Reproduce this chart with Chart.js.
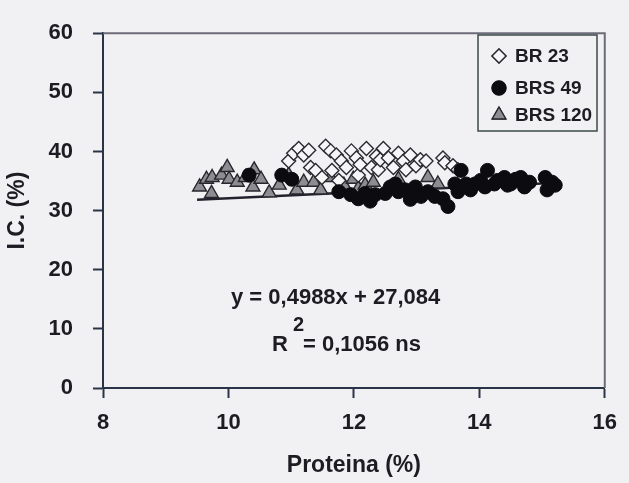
<!DOCTYPE html>
<html>
<head>
<meta charset="utf-8">
<script src="https://cdn.jsdelivr.net/npm/chart.js@4.4.1/dist/chart.umd.min.js"></script>
<style>
  html, body { margin: 0; padding: 0; background: #f1f1f3; }
  #wrap { width: 629px; height: 483px; }
</style>
</head>
<body>
<div id="wrap"><canvas id="icChart" width="629" height="483"></canvas></div>
<script>
// Data (protein % vs harvest index %)
const br23X = [10.96, 11.04, 11.12, 11.20, 11.28, 11.31, 11.39, 11.49, 11.55, 11.63, 11.65, 11.72, 11.76, 11.80, 11.88, 11.96, 12.04, 12.07, 12.10, 12.20, 12.28, 12.36, 12.39, 12.42, 12.47, 12.55, 12.63, 12.71, 12.79, 12.83, 12.90, 12.99, 13.06, 13.15, 13.42, 13.45, 13.58, 13.66];
const br23Y = [38.4, 39.7, 40.5, 39.4, 40.2, 37.3, 36.8, 35.6, 40.9, 40.1, 36.8, 39.4, 35.1, 38.4, 37.3, 40.1, 38.9, 36.0, 37.8, 40.5, 37.3, 39.2, 36.9, 38.6, 40.5, 38.9, 37.3, 39.7, 38.4, 36.9, 39.4, 37.6, 38.6, 38.4, 38.9, 38.1, 37.6, 36.9];

const brs49X = [10.33, 10.85, 11.01, 11.76, 11.95, 12.07, 12.18, 12.26, 12.34, 12.50, 12.58, 12.66, 12.71, 12.82, 12.90, 12.98, 13.07, 13.18, 13.29, 13.42, 13.50, 13.61, 13.66, 13.71, 13.79, 13.86, 13.93, 14.02, 14.09, 14.13, 14.24, 14.29, 14.40, 14.45, 14.50, 14.58, 14.66, 14.72, 14.80, 15.05, 15.08, 15.16, 15.21];
const brs49Y = [36.0, 36.0, 35.3, 33.2, 32.7, 32.0, 32.9, 31.6, 32.7, 32.9, 34.0, 34.5, 33.2, 33.5, 31.9, 34.0, 32.4, 33.2, 32.4, 32.0, 30.7, 34.5, 33.2, 36.8, 34.5, 33.5, 34.5, 35.1, 34.0, 36.8, 34.5, 35.1, 35.6, 34.3, 34.5, 35.3, 35.6, 34.0, 34.8, 35.6, 33.5, 34.8, 34.3];

const brs120X = [9.54, 9.65, 9.74, 9.89, 9.98, 10.01, 10.14, 9.73, 10.27, 10.41, 10.39, 10.52, 10.65, 10.81, 10.96, 11.09, 11.20, 11.36, 11.47, 11.63, 11.84, 11.99, 12.07, 12.18, 12.31, 12.58, 12.71, 13.18, 13.34];
const brs120Y = [34.0, 35.3, 35.6, 36.0, 37.3, 35.3, 34.8, 32.9, 35.6, 36.9, 34.0, 35.3, 33.0, 34.3, 36.0, 33.5, 34.8, 34.8, 33.5, 35.6, 34.3, 35.3, 33.7, 34.3, 34.8, 33.7, 35.3, 35.6, 34.5];

const seriesNames = ['BR 23', 'BRS 49', 'BRS 120'];

// linear fit printed on the figure
const slope = 0.4988;
const intercept = 27.084;
const fitRange = [9.5, 15.25];
const eqText = 'y = 0,4988x + 27,084';
const r2Value = '= 0,1056 ns';

const xTicks = [8, 10, 12, 14, 16];
const yTicks = [0, 10, 20, 30, 40, 50, 60];

const FONT = 'Liberation Sans, Arial, sans-serif';
const INK = '#1c1c22';
const AXIS = '#2a3448';
const BG = '#f1f1f3';

function toPoints(xs, ys) {
  return xs.map((x, i) => ({ x: x, y: ys[i] }));
}

const fitLine = fitRange.map(x => ({ x: x, y: slope * x + intercept }));

// background + top/right frame of the plot area
const framePlugin = {
  id: 'frame',
  beforeDraw(chart) {
    const c = chart.ctx;
    c.save();
    c.fillStyle = BG;
    c.fillRect(0, 0, chart.width, chart.height);
    c.restore();
  },
  afterDatasetsDraw(chart) {
    const a = chart.chartArea;
    const c = chart.ctx;
    c.save();
    c.strokeStyle = '#6c6c78';
    c.lineWidth = 2;
    c.beginPath();
    c.moveTo(a.left, a.top);
    c.lineTo(a.right, a.top);
    c.lineTo(a.right, a.bottom);
    c.stroke();
    c.restore();
  }
};

// legend box in the upper right, plus equation text
const notesPlugin = {
  id: 'notes',
  afterDraw(chart) {
    const c = chart.ctx;
    c.save();
    c.strokeStyle = '#3c4a48';
    c.lineWidth = 1.5;
    c.strokeRect(478, 35, 119, 96);

    const rows = [56, 88, 115];
    for (let i = 0; i < 3; i++) {
      const ds = chart.data.datasets[i];
      Chart.helpers.drawPoint(c, {
        pointStyle: ds.pointStyle,
        radius: ds.pointRadius,
        borderWidth: ds.borderWidth,
        rotation: 0
      }, 499, rows[i]);
      c.fillStyle = ds.backgroundColor;
      c.strokeStyle = ds.borderColor;
      c.lineWidth = ds.borderWidth;
      c.fill();
      c.stroke();
      c.fillStyle = INK;
      c.font = 'bold 19px ' + FONT;
      c.textBaseline = 'middle';
      c.textAlign = 'left';
      c.fillText(ds.label, 515, rows[i] + 1);
    }

    c.fillStyle = INK;
    c.font = 'bold 22px ' + FONT;
    c.textBaseline = 'middle';
    c.textAlign = 'left';
    c.fillText(eqText, 231, 298);
    c.fillText('R', 272, 345);
    c.fillText(r2Value, 303, 345);
    c.font = 'bold 20px ' + FONT;
    c.fillText('2', 293, 325);
    c.restore();
  }
};

const ctx = document.getElementById('icChart').getContext('2d');
const icChart = new Chart(ctx, {
  type: 'scatter',
  data: {
    datasets: [
      {
        label: seriesNames[0],
        data: toPoints(br23X, br23Y),
        pointStyle: 'rectRot',
        pointRadius: 7,
        backgroundColor: '#f6f6f8',
        borderColor: '#2a2a30',
        borderWidth: 1.4,
        order: 3
      },
      {
        label: seriesNames[1],
        data: toPoints(brs49X, brs49Y),
        pointStyle: 'circle',
        pointRadius: 7,
        backgroundColor: '#0c0c10',
        borderColor: '#0c0c10',
        borderWidth: 1,
        order: 2
      },
      {
        label: seriesNames[2],
        data: toPoints(brs120X, brs120Y),
        pointStyle: 'triangle',
        pointRadius: 8,
        backgroundColor: '#8c8c92',
        borderColor: '#26262c',
        borderWidth: 1.4,
        order: 4
      },
      {
        type: 'line',
        label: 'fit',
        data: fitLine,
        borderColor: '#22222e',
        borderWidth: 2.5,
        pointRadius: 0,
        fill: false,
        order: 10
      }
    ]
  },
  options: {
    responsive: false,
    devicePixelRatio: 1,
    animation: false,
    layout: { padding: { top: 21, right: 19, left: 0, bottom: 0 } },
    plugins: {
      legend: { display: false },
      tooltip: { enabled: false }
    },
    scales: {
      x: {
        type: 'linear',
        min: 8,
        max: 16,
        afterFit(scale) { scale.height = 95; },
        afterBuildTicks(scale) { scale.ticks = xTicks.map(v => ({ value: v })); },
        border: { display: true, color: AXIS, width: 2 },
        grid: { drawOnChartArea: false, drawTicks: true, tickLength: 10, tickColor: AXIS, tickWidth: 2 },
        ticks: { color: INK, font: { family: FONT, size: 22, weight: 'bold' }, padding: 12, maxRotation: 0 },
        title: { display: true, text: 'Proteina (%)', color: INK, font: { family: FONT, size: 23, weight: 'bold' }, padding: { top: 8 } }
      },
      y: {
        min: 0,
        max: 60,
        afterFit(scale) { scale.width = 103; },
        afterBuildTicks(scale) { scale.ticks = yTicks.map(v => ({ value: v })); },
        border: { display: true, color: AXIS, width: 2 },
        grid: { drawOnChartArea: false, drawTicks: true, tickLength: 10, tickColor: AXIS, tickWidth: 2 },
        ticks: { color: INK, font: { family: FONT, size: 22, weight: 'bold' }, padding: 20 },
        title: { display: true, text: 'I.C. (%)', color: INK, font: { family: FONT, size: 23, weight: 'bold' }, padding: { bottom: 4 } }
      }
    }
  },
  plugins: [framePlugin, notesPlugin]
});
</script>
</body>
</html>
